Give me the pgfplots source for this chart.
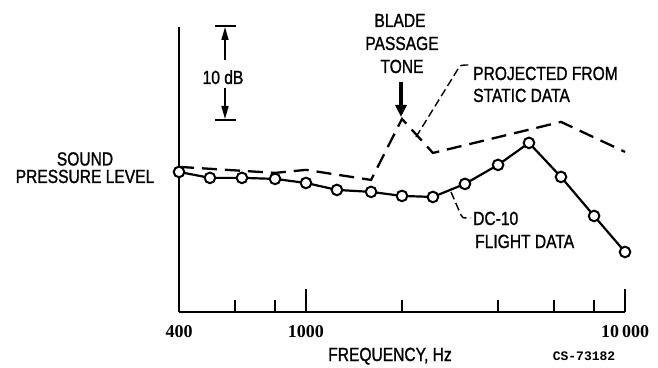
\documentclass[border=0pt]{standalone}
\usepackage{fontspec}
\setmainfont{Liberation Sans}[FakeStretch=0.82, FakeBold=1.2]
\newfontfamily\tickfont{Liberation Serif}
\newfontfamily\idfont{Liberation Mono}
\usepackage{pgfplots}
\pgfplotsset{compat=1.18}
\usetikzlibrary{arrows.meta}
\newcommand\lab{\fontsize{19}{23}\selectfont}
\begin{document}
\begin{tikzpicture}
\useasboundingbox (0,0) rectangle (658pt,367pt);
\begin{axis}[
  at={(179pt,55pt)}, anchor=south west,
  width=446pt, height=285pt, scale only axis,
  xmode=log, xmin=400, xmax=10000, ymin=0, ymax=30.3,
  clip=false,
  axis x line*=bottom, axis y line*=left,
  axis line style={line width=1.8pt, -},
  ytick=\empty,
  xtick={1000,10000}, xticklabels={1000,10\,000},
  minor xtick={600,800,2000,4000,6000,8000},
  extra x ticks={400}, extra x tick labels={400},
  extra x tick style={major tick length=0pt},
  tick align=inside, major tick length=23pt, minor tick length=12pt,
  major tick style={black, line width=1.5pt},
  minor tick style={black, line width=1.5pt},
  xticklabel style={font=\tickfont\bfseries\fontsize{18}{18}\selectfont, yshift=-10pt},
]
\addplot[black, line width=2.3pt, dash pattern=on 15pt off 8pt] coordinates {
  (400,15.43) (800,14.79) (1000,15.11) (1600,14.04) (2000,20.53)
  (2500,16.91) (6300,20.21) (10000,17.02)};
\addplot[black, line width=2.2pt, mark=*, mark size=5.3pt,
  mark options={solid, fill=white, draw=black, line width=2pt}] coordinates {
  (400,14.89) (500,14.26) (630,14.26) (800,14.15) (1000,13.72)
  (1250,12.98) (1600,12.77) (2000,12.34) (2500,12.23) (3150,13.62)
  (4000,15.64) (5000,17.98) (6300,14.36) (8000,10.21) (10000,6.38)};
\end{axis}
\begin{scope}[x=1pt, y=-1pt, shift={(0pt,367pt)}]
  % y-axis label
  \node[anchor=base, inner sep=0, font=\lab] at (85,165.5) {SOUND};
  \node[anchor=base, inner sep=0, font=\lab] at (85,183) {PRESSURE LEVEL};
  % x-axis label
  \node[anchor=base, inner sep=0, font=\lab] at (390,361) {FREQUENCY, Hz};
  \node[anchor=base, inner sep=0, font=\idfont\bfseries\fontsize{13}{14}\selectfont] at (584,360) {CS-73182};
  % scale bar
  \draw[line width=2pt] (215,26) -- (236,26);
  \draw[line width=2pt] (215,120) -- (236,120);
  \draw[line width=1.6pt, -{Triangle[length=13pt,width=7pt]}] (225,60) -- (225,27);
  \draw[line width=1.6pt, -{Triangle[length=13pt,width=7pt]}] (225,88) -- (225,119);
  \node[anchor=base, inner sep=0, font=\lab] at (223,84) {10 dB};
  % blade passage tone
  \node[anchor=base, inner sep=0, font=\lab] at (400,27) {BLADE};
  \node[anchor=base, inner sep=0, font=\lab] at (402,50) {PASSAGE};
  \node[anchor=base, inner sep=0, font=\lab] at (402,73) {TONE};
  \draw[line width=3.5pt, -{Triangle[length=12pt,width=11pt]}] (401,82) -- (401,117);
  % projected label
  \node[anchor=base west, inner sep=0, font=\lab] at (473,80) {PROJECTED FROM};
  \node[anchor=base west, inner sep=0, font=\lab] at (473,102) {STATIC DATA};
  \draw[line width=1.4pt, dash pattern=on 8pt off 4pt] (416,137) -- (458,69) .. controls (460,65) .. (471,65);
  % flight label
  \node[anchor=base west, inner sep=0, font=\lab] at (473,225) {DC-10};
  \node[anchor=base west, inner sep=0, font=\lab] at (475,248) {FLIGHT DATA};
  \draw[line width=1.4pt, dash pattern=on 8pt off 4pt] (451,192) -- (461,215) .. controls (462,218) .. (471,218);
\end{scope}
\end{tikzpicture}
\end{document}
